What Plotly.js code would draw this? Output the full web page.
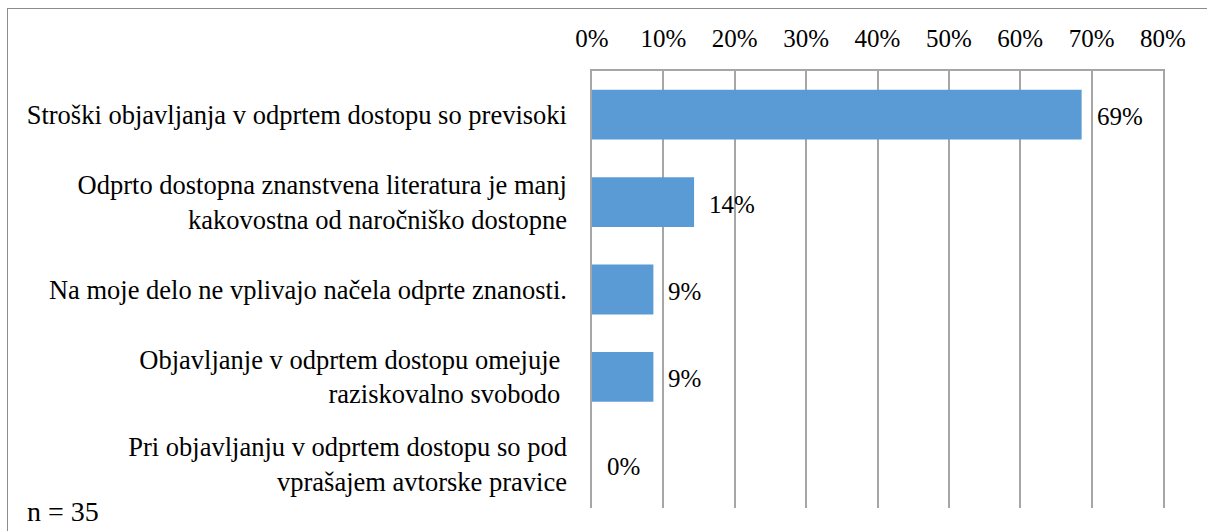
<!DOCTYPE html>
<html>
<head>
<meta charset="utf-8">
<script src="https://cdn.plot.ly/plotly-3.0.1.min.js"></script>
</head>
<body style="margin:0">
<div style="position:absolute;left:27px;top:497px;font-family:'Liberation Serif';font-size:28px;line-height:30px;color:#000;z-index:5">n = 35</div>
<div id="graph" style="width:1207px;height:531px"></div>
<div style="position:absolute;left:7px;top:8px;width:1400px;height:700px;border:1.5px solid #8c8c8c;pointer-events:none"></div>
<script>
let categories = [
    "Stroški objavljanja v odprtem dostopu so previsoki",
    "Odprto dostopna znanstvena literatura je manj<br>kakovostna od naročniško dostopne",
    "Na moje delo ne vplivajo načela odprte znanosti.",
    "Objavljanje v odprtem dostopu omejuje <br>raziskovalno svobodo ",
    "Pri objavljanju v odprtem dostopu so pod<br>vprašajem avtorske pravice"
];
let values = [68.6, 14.3, 8.6, 8.6, 0];
let tickVals = [0, 10, 20, 30, 40, 50, 60, 70, 80];
let tickText = ["0%", "10%", "20%", "30%", "40%", "50%", "60%", "70%", "80%"];

let serif = "Liberation Serif";
let gridCol = "#a6a6a6";
let mrg = {l: 592, r: 44, t: 71, b: 23};

// value labels right of the bars
let ann = values.map(function(v, i) {
    return {x: v, y: categories[i], xanchor: 'left', showarrow: false,
            xshift: 13, yshift: -2,
            text: Math.round(v) + "%", font: {family: serif, size: 25, color: "#000"}};
});

Plotly.newPlot('graph', [{
    type: 'bar',
    orientation: 'h',
    x: values,
    y: categories,
    marker: {color: "#5b9bd5"},
    hoverinfo: 'none'
}], {
    width: 1207,
    height: 531,
    margin: mrg,
    showlegend: false,
    bargap: 0.43,
    font: {family: serif, size: 26, color: "#000"},
    xaxis: {
        side: 'top',
        range: [0, 80],
        tickvals: tickVals,
        ticktext: tickText,
        gridcolor: gridCol,
        gridwidth: 1.5,
        zeroline: false,
        showline: true,
        linecolor: gridCol,
        linewidth: 1.5,
        ticks: '',
        ticklabelstandoff: 12,
        tickfont: {family: serif, size: 25, color: "#000"}
    },
    yaxis: {
        type: 'category',
        autorange: 'reversed',
        showgrid: false,
        zeroline: false,
        showline: true,
        mirror: true,
        linecolor: gridCol,
        linewidth: 1.5,
        ticks: '',
        ticklabelstandoff: 18,
        tickfont: {family: serif, size: 26.5, color: "#000"}
    },
    annotations: ann
}, {displayModeBar: false});

// redraw once the serif face is ready so text is measured with it
if (document.fonts && document.fonts.ready) {
    document.fonts.ready.then(function() { Plotly.redraw('graph'); });
}
</script>
</body>
</html>
